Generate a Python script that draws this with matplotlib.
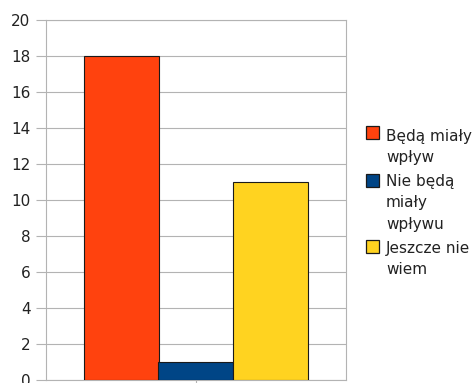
import matplotlib
matplotlib.use("Agg")
import matplotlib.pyplot as plt
from matplotlib.patches import Rectangle
import numpy as np

plt.rcParams['font.family'] = ['DejaVu Sans']

categories = [""]
series_names = ["Będą miały\nwpływ", "Nie będą\nmiały\nwpływu", "Jeszcze nie\nwiem"]
series_values = [[18], [1], [11]]
colors = ["#ff420e", "#004586", "#ffd320"]
yticks = [0, 2, 4, 6, 8, 10, 12, 14, 16, 18, 20]

W, H = 475, 383
fig = plt.figure(figsize=(W/100, H/100), dpi=100)
ax = fig.add_axes([46/W, 1-380/H, 300/W, 360/H])

w = 0.25
x = np.arange(len(categories))
for i, (vals, c) in enumerate(zip(series_values, colors)):
    ax.bar(x + (i - 1) * w, vals, width=w, color=c, edgecolor="#1a1a1a", linewidth=0.8, zorder=3)

ax.set_xlim(-0.5, 0.5)
ax.set_ylim(0, 20)
ax.set_yticks(yticks)
ax.set_yticklabels([str(t) for t in yticks], fontsize=11, color="#222222")
ax.set_xticks(x)
ax.set_xticklabels(categories)
ax.yaxis.grid(True, color="#b3b3b3", linewidth=0.8, zorder=0)
ax.tick_params(axis='y', length=7.2, width=0.8, color="#b3b3b3", pad=4)
ax.tick_params(axis='x', length=5, width=0.8, color="#b3b3b3")
for s in ax.spines.values():
    s.set_color("#b3b3b3")
    s.set_linewidth(0.8)

# legend (drawn manually: square beside first line of each wrapped label)
square_centers = [132.5, 180, 246.5]
first_baselines = [141, 186, 252.5]
line_step = 21.5
for name, c, yc, yb in zip(series_names, colors, square_centers, first_baselines):
    fig.patches.append(Rectangle((366/W, 1 - (yc + 6.5)/H), 13/W, 13/H,
                                 transform=fig.transFigure, facecolor=c,
                                 edgecolor="#1a1a1a", linewidth=0.9))
    for k, line in enumerate(name.split("\n")):
        fig.text(386/W, 1 - (yb + k * line_step)/H, line, fontsize=11,
                 color="#222222", va="baseline", ha="left")

fig.savefig("out.png", dpi=100)
